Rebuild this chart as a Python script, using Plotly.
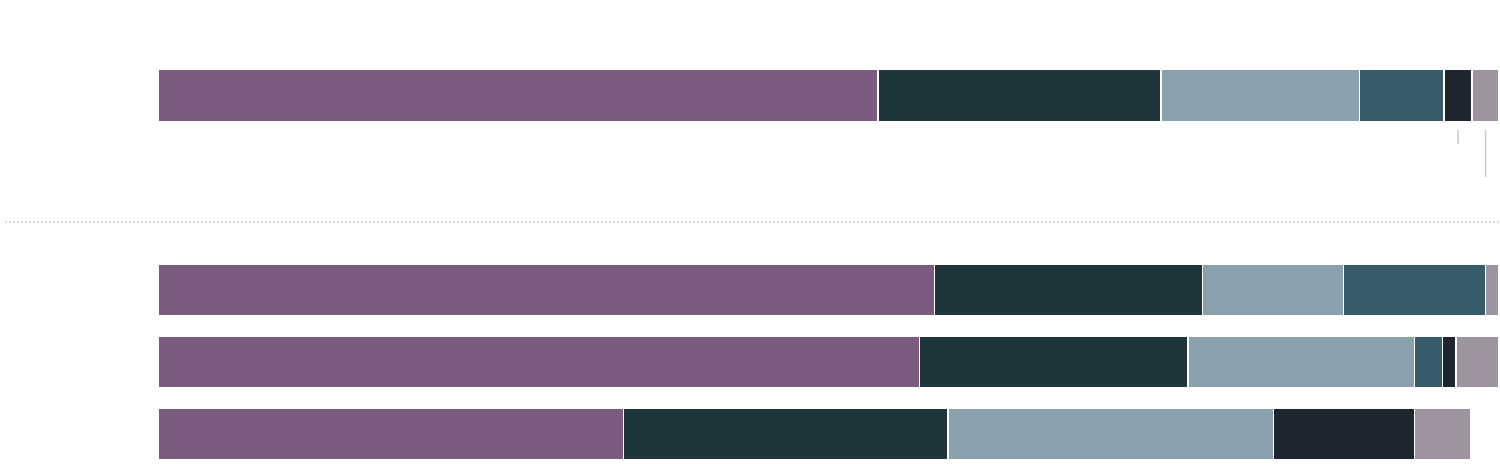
import plotly.graph_objects as go

# ---- data ----
series_names = ["Segment 1", "Segment 2", "Segment 3", "Segment 4", "Segment 5", "Segment 6"]
series_colors = ["#7b5c7e", "#1f353c", "#8aa0ad", "#385b6a", "#1e252e", "#9e93a0"]

top_category = ["Total"]
top_values = [53.7, 21.1, 14.8, 6.3, 2.1, 2.0]

group_categories = ["Group A", "Group B", "Group C"]
seg1 = [57.9, 56.8, 34.7]
seg2 = [20.0, 20.0, 24.2]
seg3 = [10.5, 16.9, 24.3]
seg4 = [10.6, 2.1, 0.0]
seg5 = [0.0, 1.0, 10.5]
seg6 = [1.0, 3.2, 4.2]
group_values = [seg1, seg2, seg3, seg4, seg5, seg6]

# ---- figure ----
W, H = 1500, 464
fig = go.Figure()

for i, name in enumerate(series_names):
    fig.add_trace(go.Bar(
        y=top_category, x=[top_values[i]], name=name, orientation="h",
        marker=dict(color=series_colors[i], line=dict(color="white", width=1.5)),
        yaxis="y", xaxis="x", showlegend=False, hoverinfo="x+name",
    ))
    fig.add_trace(go.Bar(
        y=group_categories, x=group_values[i], name=name, orientation="h",
        marker=dict(color=series_colors[i], line=dict(color="white", width=1.5)),
        yaxis="y2", xaxis="x", showlegend=False, hoverinfo="x+name",
    ))

# pixel layout helpers
top_unit, top_center = 72.0, 95.5
bot_unit, bot_center = 71.85, 290.3
top_dom_px = (0, 200)
bot_dom_px = (240, 464)

def pv(p, center, unit):
    return (p - center) / unit

# leader lines under the two smallest segments of the top bar
cum = [sum(top_values[:k]) for k in range(len(top_values) + 1)]
mid5 = (cum[4] + cum[5]) / 2
mid6 = (cum[5] + cum[6]) / 2
shapes = [
    dict(type="line", xref="x", yref="y", x0=mid5, x1=mid5,
         y0=pv(130, top_center, top_unit), y1=pv(144, top_center, top_unit),
         line=dict(color="#c8c8c8", width=1.5)),
    dict(type="line", xref="x", yref="y", x0=mid6, x1=mid6,
         y0=pv(130, top_center, top_unit), y1=pv(177, top_center, top_unit),
         line=dict(color="#c8c8c8", width=1.5)),
    dict(type="line", xref="paper", yref="paper",
         x0=(5 - 158) / 1341, x1=1.0, y0=1 - 222 / H, y1=1 - 222 / H,
         line=dict(color="#d0d0d0", width=1.5, dash="2px,2px")),
]

fig.update_layout(
    width=W, height=H,
    margin=dict(l=158, r=1, t=0, b=0),
    paper_bgcolor="white", plot_bgcolor="white",
    barmode="stack", bargap=0.28,
    showlegend=False,
    xaxis=dict(range=[0, 100], visible=False, fixedrange=True),
    yaxis=dict(
        domain=[1 - top_dom_px[1] / H, 1 - top_dom_px[0] / H],
        range=[pv(top_dom_px[1], top_center, top_unit), pv(top_dom_px[0], top_center, top_unit)],
        visible=False, type="category", fixedrange=True,
    ),
    yaxis2=dict(
        domain=[1 - bot_dom_px[1] / H, 1 - bot_dom_px[0] / H],
        range=[pv(bot_dom_px[1], bot_center, bot_unit), pv(bot_dom_px[0], bot_center, bot_unit)],
        visible=False, type="category", fixedrange=True,
    ),
    shapes=shapes,
)

fig.write_html(
    "out.html",
    config={"displayModeBar": False},
    post_script="document.body.style.margin='0';document.body.style.overflow='hidden';",
)
